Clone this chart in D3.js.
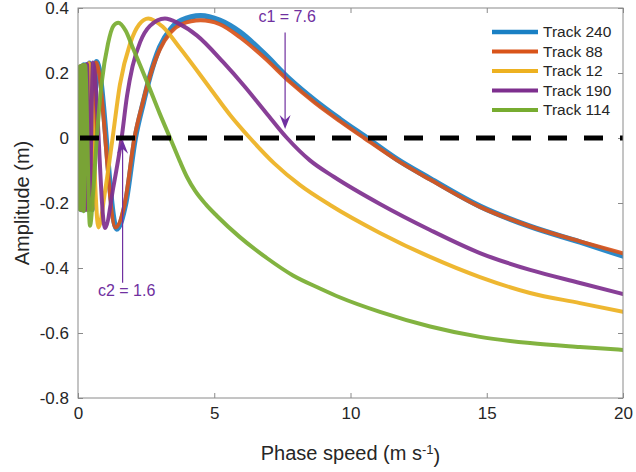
<!DOCTYPE html>
<html>
<head>
<meta charset="utf-8">
<script src="https://cdn.jsdelivr.net/npm/d3@7"></script>
<style>
  body { margin: 0; background: #fff; }
  text { font-family: "Liberation Sans", Arial, Helvetica, sans-serif; }
</style>
</head>
<body>
<script>
// values (phase speed in m/s, amplitude in m)
var speedTicks = [0, 5, 10, 15, 20];
var ampTicks = [-0.8, -0.6, -0.4, -0.2, 0, 0.2, 0.4];
var trackNames = ["Track 240", "Track 88", "Track 12", "Track 190", "Track 114"];
var trackColors = ["#1a80c4", "#d9541a", "#edb120", "#7e2f8e", "#77ac30"];
var trackWidths = [5.5, 4, 4, 4, 4];

var track240Speed = [0.045, 0.058, 0.066, 0.075, 0.084, 0.094, 0.105, 0.118, 0.132, 0.148, 0.167, 0.19, 0.215, 0.25, 0.29, 0.345, 0.42, 0.52, 0.68, 1.42, 1.75, 2.1, 2.4, 2.64, 3.0, 3.4, 3.8, 4.5, 5.2, 5.94, 6.8, 7.78, 8.7, 9.61, 10.6, 11.7, 12.92, 14.75, 16.59, 18.42, 20];
var track240Amp = [0.1, -0.2, 0.2, -0.21, 0.21, -0.21, 0.21, -0.22, 0.22, -0.22, 0.22, -0.22, 0.225, -0.22, 0.225, -0.22, 0.23, -0.22, 0.235, -0.28, -0.2, 0, 0.11, 0.19, 0.28, 0.335, 0.362, 0.376, 0.362, 0.326, 0.262, 0.18, 0.115, 0.058, 0, -0.065, -0.125, -0.21, -0.272, -0.32, -0.363];

var track88Speed = [0.045, 0.057, 0.065, 0.074, 0.083, 0.093, 0.104, 0.117, 0.131, 0.147, 0.166, 0.188, 0.213, 0.248, 0.288, 0.34, 0.415, 0.51, 0.66, 1.38, 1.72, 2.07, 2.38, 2.62, 3.0, 3.4, 3.8, 4.5, 5.2, 5.94, 6.8, 7.78, 8.7, 9.61, 10.5, 11.7, 12.92, 14.75, 16.59, 18.42, 20];
var track88Amp = [0, -0.2, 0.2, -0.21, 0.21, -0.21, 0.21, -0.22, 0.22, -0.22, 0.22, -0.22, 0.225, -0.22, 0.225, -0.22, 0.23, -0.22, 0.232, -0.275, -0.2, 0, 0.11, 0.185, 0.272, 0.325, 0.35, 0.362, 0.35, 0.31, 0.25, 0.172, 0.108, 0.052, 0, -0.068, -0.128, -0.212, -0.272, -0.318, -0.355];

var track12Speed = [0.02, 0.028, 0.034, 0.041, 0.049, 0.058, 0.068, 0.08, 0.094, 0.11, 0.13, 0.155, 0.19, 0.235, 0.30, 0.40, 0.75, 1.0, 1.27, 1.54, 1.91, 2.25, 2.58, 3.1, 3.74, 4.84, 5.58, 6.31, 7.2, 8.15, 9.25, 11.08, 12.92, 14.75, 16.59, 18.42, 20];
var track12Amp = [-0.05, 0.2, -0.2, 0.21, -0.21, 0.21, -0.21, 0.22, -0.22, 0.22, -0.22, 0.22, -0.22, 0.225, -0.22, 0.23, -0.275, -0.16, 0, 0.165, 0.29, 0.35, 0.368, 0.343, 0.277, 0.154, 0.071, 0, -0.078, -0.145, -0.206, -0.292, -0.366, -0.428, -0.477, -0.508, -0.535];

var track190Speed = [0.028, 0.036, 0.043, 0.05, 0.058, 0.067, 0.077, 0.088, 0.1, 0.113, 0.128, 0.145, 0.165, 0.19, 0.225, 0.27, 0.33, 0.42, 0.55, 0.99, 1.3, 1.6, 1.8, 2.0, 2.28, 2.64, 3.19, 3.7, 4.37, 5.32, 6.1, 6.9, 7.67, 8.5, 9.4, 11.08, 12.92, 14.75, 16.59, 18.42, 20];
var track190Amp = [0.05, -0.2, 0.2, -0.21, 0.21, -0.21, 0.22, -0.22, 0.22, -0.22, 0.22, -0.22, 0.22, -0.22, 0.225, -0.22, 0.228, -0.22, 0.232, -0.277, -0.15, 0, 0.13, 0.22, 0.295, 0.345, 0.368, 0.352, 0.315, 0.234, 0.16, 0.078, 0, -0.068, -0.12, -0.203, -0.283, -0.354, -0.406, -0.446, -0.48];

var track114Speed = [0.012, 0.02, 0.026, 0.033, 0.041, 0.051, 0.061, 0.075, 0.09, 0.11, 0.135, 0.17, 0.21, 0.26, 0.44, 0.57, 0.69, 0.87, 1.1, 1.3, 1.48, 1.75, 2.0, 2.3, 2.57, 3.0, 3.38, 3.74, 4.0, 4.3, 4.7, 5.1, 5.94, 6.94, 7.89, 8.88, 9.6, 11.08, 12.92, 14.75, 16.59, 18.42, 20];
var track114Amp = [0, 0.2, -0.2, 0.21, -0.21, 0.22, -0.22, 0.22, -0.22, 0.22, -0.22, 0.225, -0.225, 0.225, -0.27, -0.15, 0, 0.17, 0.29, 0.345, 0.355, 0.33, 0.28, 0.22, 0.165, 0.075, 0, -0.072, -0.12, -0.163, -0.205, -0.24, -0.305, -0.37, -0.423, -0.463, -0.49, -0.535, -0.58, -0.612, -0.631, -0.643, -0.652];

// crossing speeds marked on the figure
var c1 = 7.6;
var c2 = 1.6;

var svgWidth = 636;
var svgHeight = 472;
var margin = { top: 8, right: 13, bottom: 74, left: 78 };
var width = svgWidth - margin.left - margin.right;
var height = svgHeight - margin.top - margin.bottom;

var svg = d3.select("body")
  .append("svg")
  .attr("width", svgWidth)
  .attr("height", svgHeight);

var chartGroup = svg.append("g")
  .attr("transform", `translate(${margin.left}, ${margin.top})`);

var xscale = d3.scaleLinear().domain([0, 20]).range([0, width]);
var yscale = d3.scaleLinear().domain([-0.8, 0.4]).range([height, 0]);

var axisColor = "#8a8a8a";
var labelColor = "#262626";

// plain labels like matlab: "0", "-0.2", "0.4"
var plainFormat = d => String(d);

// axes, ticks inside, box on
var bottomAxis = d3.axisBottom(xscale).tickValues(speedTicks).tickFormat(plainFormat).tickSizeInner(-5).tickSizeOuter(0).tickPadding(9);
var leftAxis = d3.axisLeft(yscale).tickValues(ampTicks).tickFormat(plainFormat).tickSizeInner(-5).tickSizeOuter(0).tickPadding(9);
var topAxis = d3.axisTop(xscale).tickValues(speedTicks).tickSizeInner(-5).tickSizeOuter(0).tickFormat("");
var rightAxis = d3.axisRight(yscale).tickValues(ampTicks).tickSizeInner(-5).tickSizeOuter(0).tickFormat("");

function styleAxis(g) {
  g.select(".domain").remove();
  g.selectAll(".tick line").attr("stroke", axisColor);
  g.selectAll(".tick text")
    .attr("fill", labelColor)
    .style("font-size", "17px");
}

chartGroup.append("g").attr("transform", `translate(0, ${height})`).call(bottomAxis).call(styleAxis);
chartGroup.append("g").call(leftAxis).call(styleAxis);
chartGroup.append("g").call(topAxis).call(styleAxis);
chartGroup.append("g").attr("transform", `translate(${width}, 0)`).call(rightAxis).call(styleAxis);

chartGroup.append("clipPath").attr("id", "plotclip")
  .append("rect").attr("width", width).attr("height", height);

// curves, drawn in legend order so Track 114 ends on top
var tracks = [
  { speed: track240Speed, amp: track240Amp },
  { speed: track88Speed, amp: track88Amp },
  { speed: track12Speed, amp: track12Amp },
  { speed: track190Speed, amp: track190Amp },
  { speed: track114Speed, amp: track114Amp }
];

var line = d3.line()
  .x(d => xscale(d[0]))
  .y(d => yscale(d[1]))
  .curve(d3.curveMonotoneX);

var curveGroup = chartGroup.append("g").attr("clip-path", "url(#plotclip)");

tracks.forEach(function(t, i) {
  var pts = t.speed.map((s, j) => [s, t.amp[j]]);
  curveGroup.append("path")
    .datum(pts)
    .attr("d", line)
    .attr("fill", "none")
    .attr("stroke", trackColors[i])
    .attr("stroke-width", trackWidths[i])
    .attr("stroke-linejoin", "round")
    .attr("stroke-linecap", "round")
    .attr("opacity", 0.92);
});

// zero line
chartGroup.append("line")
  .attr("x1", xscale(0) + 2)
  .attr("x2", xscale(20))
  .attr("y1", yscale(0))
  .attr("y2", yscale(0))
  .attr("stroke", "#000")
  .attr("stroke-width", 5)
  .attr("stroke-dasharray", "19,17");

// box
chartGroup.append("rect")
  .attr("width", width)
  .attr("height", height)
  .attr("fill", "none")
  .attr("stroke", axisColor)
  .attr("stroke-width", 1);

// annotations
var annColor = "#7030a0";
function arrow(x, yFrom, yTip) {
  var dir = yTip > yFrom ? 1 : -1;
  var len = 14, half = 5.5;
  chartGroup.append("line")
    .attr("x1", x).attr("x2", x)
    .attr("y1", yFrom).attr("y2", yTip - dir * 6)
    .attr("stroke", annColor).attr("stroke-width", 1.2);
  chartGroup.append("path")
    .attr("d", `M${x},${yTip} L${x - half},${yTip - dir * len} L${x},${yTip - dir * (len - 5)} L${x + half},${yTip - dir * len} Z`)
    .attr("fill", annColor);
}

arrow(xscale(c1), yscale(0.325), yscale(0.028));
chartGroup.append("text")
  .attr("x", xscale(c1) + 2)
  .attr("y", yscale(0.357))
  .attr("text-anchor", "middle")
  .attr("fill", annColor)
  .style("font-size", "16px")
  .text("c1 = " + c1);

arrow(xscale(c2) + 1, yscale(-0.445), yscale(-0.005));
chartGroup.append("text")
  .attr("x", xscale(c2) + 5)
  .attr("y", yscale(-0.486))
  .attr("text-anchor", "middle")
  .attr("fill", annColor)
  .style("font-size", "16px")
  .text("c2 = " + c2);

// legend
var legend = chartGroup.append("g")
  .attr("transform", `translate(${width - 131}, 24)`);
trackNames.forEach(function(name, i) {
  var row = legend.append("g").attr("transform", `translate(0, ${i * 19.5})`);
  row.append("line")
    .attr("x1", 0).attr("x2", 46)
    .attr("stroke", trackColors[i])
    .attr("stroke-width", i === 0 ? 4.5 : 4);
  row.append("text")
    .attr("x", 51)
    .attr("y", 0)
    .attr("dy", "0.35em")
    .attr("fill", labelColor)
    .style("font-size", "15.5px")
    .text(name);
});

// axis labels
chartGroup.append("text")
  .attr("transform", "rotate(-90)")
  .attr("x", -height / 2)
  .attr("y", -margin.left + 29)
  .attr("text-anchor", "middle")
  .attr("fill", labelColor)
  .style("font-size", "20px")
  .text("Amplitude (m)");

var xLabel = chartGroup.append("text")
  .attr("x", width / 2)
  .attr("y", height + 62)
  .attr("text-anchor", "middle")
  .attr("fill", labelColor)
  .style("font-size", "20px");
xLabel.append("tspan").text("Phase speed (m s");
xLabel.append("tspan").attr("dy", "-0.45em").style("font-size", "13px").text("-1");
xLabel.append("tspan").attr("dy", "0.45em").text(")");
</script>
</body>
</html>
